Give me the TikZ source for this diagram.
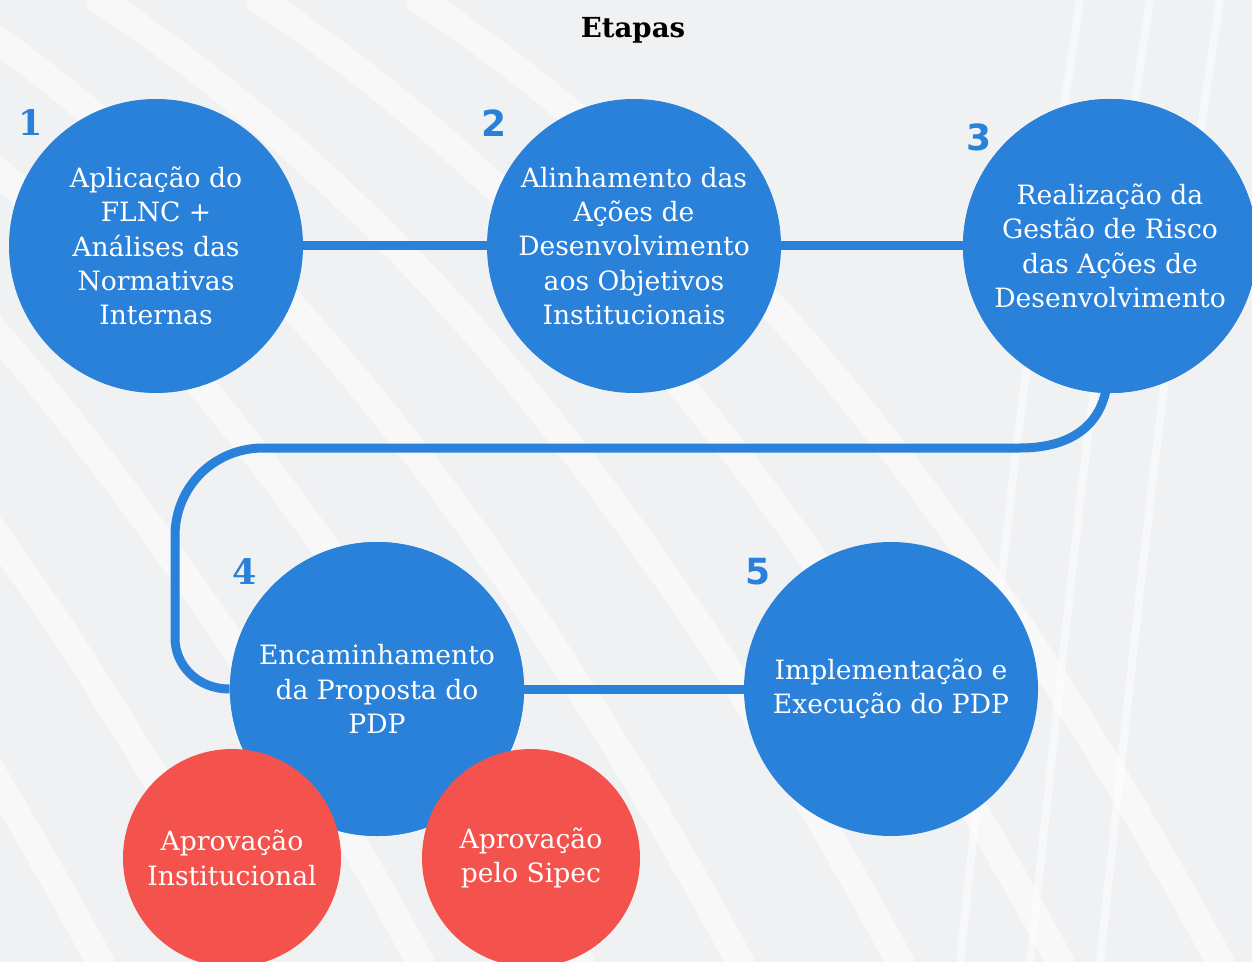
\documentclass[tikz,border=0pt]{standalone}
\usepackage{fontspec}
\setmainfont{DejaVu Serif}
\newfontfamily\digitsans{DejaVu Sans}
\definecolor{stepblue}{RGB}{41,129,217}
\definecolor{okred}{RGB}{244,82,77}
\definecolor{bggray}{RGB}{240,241,243}

\begin{document}
\begin{tikzpicture}[x=0.5pt,y=-0.5pt,
    stage/.style={circle,fill=stepblue,text=white,minimum size=294*0.5pt,inner sep=0pt,
                  align=center,font=\fontsize{13.3}{17.2}\selectfont},
    approval/.style={circle,fill=okred,text=white,minimum size=218*0.5pt,inner sep=0pt,
                  align=center,font=\fontsize{13.3}{17.2}\selectfont},
    link/.style={stepblue,line width=4.5pt},
    num/.style={stepblue,font=\digitsans\bfseries\fontsize{18}{18}\selectfont},
    numslab/.style={stepblue,font=\bfseries\fontsize{17.5}{17.5}\selectfont},
    band/.style={white,line width=14pt,opacity=0.55,line cap=round}]
    \useasboundingbox (0,0) rectangle (1252,962);
    \fill[bggray] (0,0) rectangle (1252,962);
    % background waves
    \foreach \s in {-700,-540,-380,-220,-60,100,260,420} {
      \draw[band] (\s,0) .. controls (\s+300,200) and (\s+550,500) .. (\s+800,962);
    }
    \foreach \s in {1080,1150,1220} {
      \draw[white,line width=4pt,opacity=0.5] (\s,0) .. controls (\s-60,400) .. (\s-120,962);
    }
    \node[font=\bfseries\fontsize{13.8}{13.8}\selectfont] (title) at (633,30) {Etapas};
    % stages
    \node[stage] (c1) at (156,246) {Aplicação do\\FLNC +\\Análises das\\Normativas\\Internas};
    \node[stage] (c2) at (634,246) {Alinhamento das\\Ações de\\Desenvolvimento\\aos Objetivos\\Institucionais};
    \node[stage] (c3) at (1110,246) {Realização da\\Gestão de Risco\\das Ações de\\Desenvolvimento};
    \node[stage] (c4) at (377,689) {Encaminhamento\\da Proposta do\\PDP};
    \node[stage] (c5) at (891,689) {Implementação e\\Execução do PDP};
    % connectors
    \coordinate (turn) at (1020,448);
    \coordinate (left) at (175,638);
    \draw[link] (c1.east) -- (c2.west);
    \draw[link] (c2.east) -- (c3.west);
    \draw[link] (c4.east) -- (c5.west);
    \draw[link] (1106,390) .. controls (1098,430) and (1065,448) .. (turn)
        -- (263,448) .. controls (214,448) and (175,487) .. (175,536)
        -- (left) .. controls (175,665) and (197,689) .. (c4.west);
    % redraw stage 3 and 4 on top of the path ends
    \node[stage] at (c3) {Realização da\\Gestão de Risco\\das Ações de\\Desenvolvimento};
    \node[stage] at (c4) {Encaminhamento\\da Proposta do\\PDP};
    \node[approval] (a1) at (232,858) {Aprovação\\Institucional};
    \node[approval] (a2) at (531,858) {Aprovação\\pelo Sipec};
    % numbers
    \node[numslab] (n1) at (31,123) {1};
    \node[num] (n2) at (494,123) {2};
    \node[num] (n3) at (979,137) {3};
    \node[numslab] (n4) at (245,572) {4};
    \node[num] (n5) at (758,572) {5};
\end{tikzpicture}
\end{document}
